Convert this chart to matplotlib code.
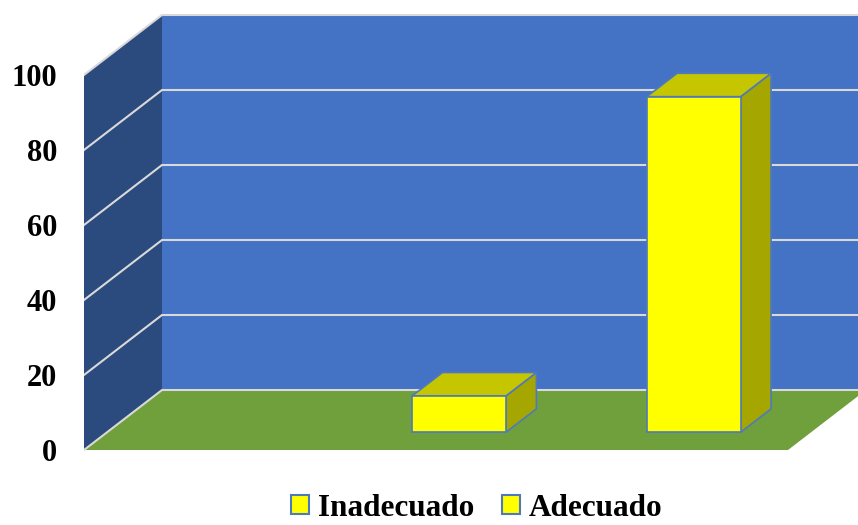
import matplotlib
matplotlib.use("Agg")
import matplotlib.pyplot as plt
from matplotlib.patches import Polygon, Patch

# --- data -------------------------------------------------------------
series_names = ["Inadecuado", "Adecuado"]
series_values = [9.7, 89.5]
series_slots = [1, 2]          # category slot of each series (slot 0 is empty)
n_slots = 3
y_ticks = [0, 20, 40, 60, 80, 100]
y_tick_labels = ["0", "20", "40", "60", "80", "100"]

# --- styling ------------------------------------------------------------
BACK_WALL = "#4472C4"
SIDE_WALL = "#2B4A7E"
FLOOR = "#70A03C"
GRID = "#D9D9D9"
BAR_FRONT = "#FFFF00"
BAR_TOP = "#C6C600"
BAR_SIDE = "#A6A600"
BAR_EDGE = "#4F79BD"

# oblique projection: full depth shifts by DX slots to the right and DY units up
DX = 78 / 234.67
DY = 16.0
YMAX = 100
BAR_W = 0.4
D0, D1 = 0.295, 0.685

plt.rcParams["font.family"] = ["Liberation Serif", "DejaVu Serif"]

W, H = 858, 525
fig = plt.figure(figsize=(W / 100, H / 100), dpi=100)
ax = fig.add_axes([84 / W, 0, 1 - 84 / W, 1])
ax.set_xlim(0, (W - 84) / 234.67)
ax.set_ylim(-20, 120)
for s in ax.spines.values():
    s.set_visible(False)
ax.set_xticks([])
ax.set_yticks(y_ticks)
ax.set_yticklabels(y_tick_labels, fontsize=22, fontweight="bold")
ax.tick_params(axis="y", length=0, pad=19.5)


def pt(x, v, d):
    """Project a point at slot x, value v and depth d (0 front .. 1 back)."""
    return (x + d * DX, v + d * DY)


def poly(points, face, edge="none", lw=0, z=1):
    ax.add_patch(Polygon(points, closed=True, facecolor=face, edgecolor=edge,
                         linewidth=lw, zorder=z, clip_on=False,
                         joinstyle="miter"))


# walls and floor
poly([pt(0, 0, 1), pt(n_slots, 0, 1), pt(n_slots, YMAX, 1), pt(0, YMAX, 1)], BACK_WALL, z=1)
poly([pt(0, 0, 0), pt(0, 0, 1), pt(0, YMAX, 1), pt(0, YMAX, 0)], SIDE_WALL, z=1)
poly([pt(0, 0, 0), pt(n_slots, 0, 0), pt(n_slots, 0, 1), pt(0, 0, 1)], FLOOR, z=2)

# gridlines on back and side walls
for v in y_ticks:
    xs = [pt(0, v, 0)[0], pt(0, v, 1)[0], pt(n_slots, v, 1)[0]]
    ys = [pt(0, v, 0)[1], pt(0, v, 1)[1], pt(n_slots, v, 1)[1]]
    ax.plot(xs, ys, color=GRID, lw=1.5, zorder=3, clip_on=True,
            solid_joinstyle="miter")

# 3-D columns
for slot, val in zip(series_slots, series_values):
    x0 = slot + (1 - BAR_W) / 2
    x1 = x0 + BAR_W
    side = [pt(x1, 0, D0), pt(x1, 0, D1), pt(x1, val, D1), pt(x1, val, D0)]
    top = [pt(x0, val, D0), pt(x1, val, D0), pt(x1, val, D1), pt(x0, val, D1)]
    front = [pt(x0, 0, D0), pt(x1, 0, D0), pt(x1, val, D0), pt(x0, val, D0)]
    poly(side, BAR_SIDE, BAR_EDGE, 1.2, z=5)
    poly(top, BAR_TOP, BAR_EDGE, 1.2, z=5)
    poly(front, BAR_FRONT, BAR_EDGE, 1.2, z=6)

handles = [Patch(facecolor=BAR_FRONT, edgecolor=BAR_EDGE, linewidth=1.5)
           for _ in series_names]
fig.legend(handles, series_names, loc="lower center", ncol=2,
           bbox_to_anchor=(477 / W, -0.037), frameon=False,
           prop={"size": 22.5, "weight": "bold"},
           handlelength=0.55, handleheight=0.55, handletextpad=0.3,
           columnspacing=0.9, borderpad=0.2)

fig.savefig("out.png", dpi=100)
